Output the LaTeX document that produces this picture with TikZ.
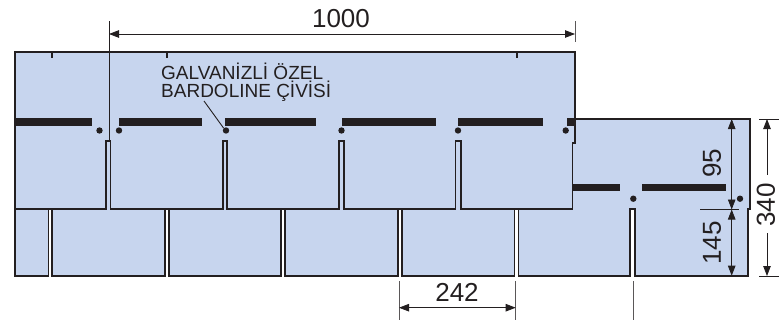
\documentclass[tikz,border=0pt]{standalone}
\usepackage{fontspec}
\setmainfont{Liberation Sans}
\usetikzlibrary{arrows.meta}
\definecolor{shingle}{HTML}{C7D5EE}
\definecolor{ink}{HTML}{231F20}
\tikzset{
  outline/.style={draw=ink,line width=1.8pt,fill=shingle,line join=miter},
  thinout/.style={draw=ink,line width=1.1pt},
  nailbar/.style={fill=ink,draw=none},
  nail/.style={circle,fill=ink,draw=none,minimum size=6.4pt,inner sep=0pt},
  dimline/.style={draw=ink,line width=0.8pt,{Triangle[length=10pt,width=7.5pt]}-{Triangle[length=10pt,width=7.5pt]}},
  extline/.style={draw=ink!75,line width=0.9pt},
  dimtext/.style={text=ink,font=\fontsize{26}{26}\selectfont,inner sep=0pt},
  notetext/.style={text=ink,font=\fontsize{19}{19}\selectfont,inner sep=0pt,align=left,anchor=north west},
}
\begin{document}
\begin{tikzpicture}[x=1pt,y=-1pt]
\useasboundingbox (0,0) rectangle (779,324);
% backing strip behind the upper row
\fill[shingle] (15,119) rectangle (575,209);
% lower row tabs of the upper shingle layer
\draw[outline] (15,209) -- (15,275.7) -- (48.5,275.7) -- (48.5,209);
\draw[outline] (52,209) -- (52,275.7) -- (165,275.7) -- (165,209);
\draw[outline] (169,209) -- (169,275.7) -- (281,275.7) -- (281,209);
\draw[outline] (285,209) -- (285,275.7) -- (398,275.7) -- (398,209);
\draw[outline] (402,209) -- (402,275.7) -- (514.5,275.7) -- (514.5,209);
% right shingle
\fill[shingle] (518.5,119) -- (750,119) -- (750,209.3) -- (748,209.3) -- (748,275.7)
  -- (634.7,275.7) -- (634.7,209) -- (630.2,209) -- (630.2,275.7) -- (518.5,275.7) -- cycle;
\draw[draw=ink,line width=1.8pt,line join=miter] (575,119) -- (750,119) -- (750,209.3) -- (748,209.3) -- (748,275.7)
  -- (634.7,275.7) -- (634.7,209) -- (630.2,209) -- (630.2,275.7) -- (518.5,275.7) -- (518.5,205);
% upper shingle
\draw[outline] (15,52) -- (575,52) -- (575,143) -- (572.5,143) -- (572.5,208.7)
  -- (460.7,208.7) -- (460.7,141) -- (455.5,141) -- (455.5,208.7)
  -- (344,208.7) -- (344,141) -- (339,141) -- (339,208.7)
  -- (227,208.7) -- (227,141) -- (222.7,141) -- (222.7,208.7)
  -- (110.5,208.7) -- (110.5,141) -- (105.8,141) -- (105.8,208.7)
  -- (15,208.7) -- cycle;
% top ticks
\foreach \tx in {52,167,517} \draw[thinout] (\tx,52) -- (\tx,58);
% nail bars
\foreach \xa/\xb in {15/91.5,119/202,225/316,342/435.5,458/543,567/575}
  \fill[nailbar] (\xa,117.7) rectangle (\xb,125.7);
\foreach \xa/\xb in {573/620,642/726}
  \fill[nailbar] (\xa,183.7) rectangle (\xb,191.3);
% nails
\foreach \nm/\nx/\ny in {a/99.5/130.5,b/119/130.5,c/226/130.5,d/341.5/130.5,e/458/130.5,f/565.7/130.5,g/633.3/198.7,h/740/198.7}
  \node[nail] (n\nm) at (\nx,\ny) {};
% note
\node[notetext] (note) at (161,62.5) {GALVANİZLİ ÖZEL\\[-0.6pt]BARDOLINE ÇİVİSİ};
\coordinate (ln) at (204,101);
\draw[ink,line width=0.9pt] (ln) -- (nc.north west);
% 1000
\coordinate (t1) at (109,21); \coordinate (t1b) at (109,141);
\coordinate (t2) at (575,21); \coordinate (t2b) at (575,42);
\draw[draw=ink,line width=0.9pt] (t1) -- (t1b);
\draw[extline] (t2) -- (t2b);
\draw[dimline] (109,34) -- (575,34);
\node[dimtext] (l1000) at (341,18.5) {1000};
% 242
\coordinate (u1) at (399,281); \coordinate (u1b) at (399,320);
\coordinate (u2) at (515.7,281); \coordinate (u2b) at (515.7,320);
\draw[extline] (u1) -- (u1b);
\draw[extline] (u2) -- (u2b);
\draw[dimline] (u1 |- 0,307.7) -- (u2 |- 0,307.7);
\node[dimtext] (l242) at (457,292) {242};
% cut line
\coordinate (c1) at (633.5,281); \coordinate (c2) at (633.5,320);
\draw[extline] (c1) -- (c2);
% right dims
\coordinate (r1) at (731.7,119); \coordinate (r2) at (731.7,209.5); \coordinate (r3) at (731.7,275.7);
\draw[dimline] (r1) -- (r2);
\draw[dimline] (r2) -- (r3);
\coordinate (m1) at (700,209.5); \coordinate (m2) at (739,209.5);
\draw[ink,line width=0.8pt] (m1) -- (m2);
\node[dimtext,rotate=90] (l95) at (712,163) {95};
\node[dimtext,rotate=90] (l145) at (712,243) {145};
% 340
\coordinate (s1) at (759,119); \coordinate (s1b) at (779,119);
\coordinate (s2) at (759,276); \coordinate (s2b) at (779,276);
\draw[ink,line width=0.9pt] (s1) -- (s1b);
\draw[ink,line width=0.9pt] (s2) -- (s2b);
\node[dimtext,rotate=90] (l340) at (766,205) {340};
\draw[draw=ink,line width=0.8pt,{Triangle[length=10pt,width=7.5pt]}-] (767,119) -- (767,175);
\draw[draw=ink,line width=0.8pt,-{Triangle[length=10pt,width=7.5pt]}] (767,233) -- (767,276);
\end{tikzpicture}
\end{document}
